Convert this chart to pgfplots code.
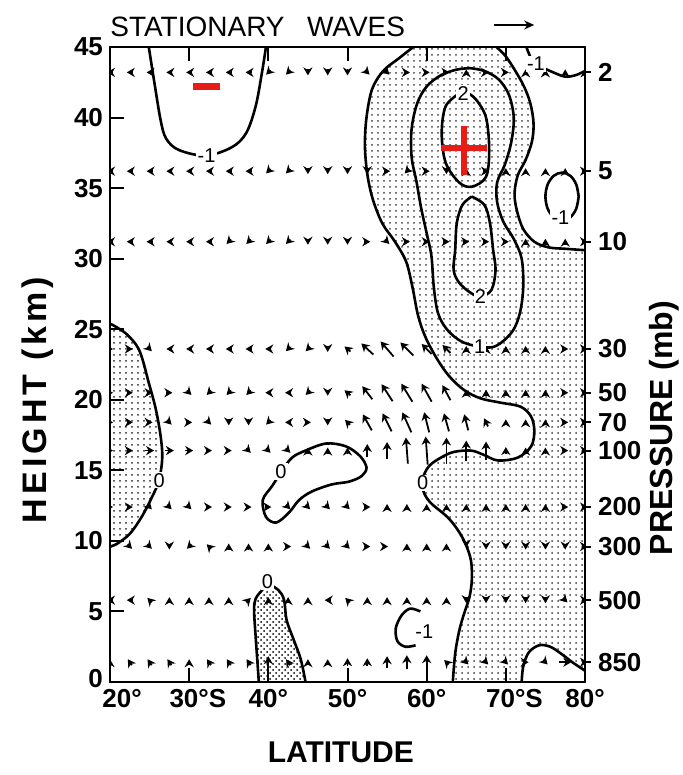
\documentclass[border=0pt]{standalone}
\usepackage{fontspec}
\setmainfont{Liberation Sans}
\usepackage{pgfplots}
\pgfplotsset{compat=1.18}
\usepackage{pgfplotstable}
\usetikzlibrary{patterns,arrows.meta}
\definecolor{mk}{RGB}{232,28,22}
\tikzset{
  cline/.style={black, line width=1.3pt, smooth, tension=0.55},
  lab/.style={fill=white, inner sep=0.6pt, font=\fontsize{10}{10}\selectfont},
}

% wave-activity vectors: x (deg S), y (km), u v in picture pixels
\pgfplotstableread{
x y u v
20 43.2 -6 0
22.5 43.2 -6 0
25 43.2 -6 0
27.5 43.2 -6 0
30 43.2 -6 0
32.5 43.2 -6 0
35 43.2 -6 0
37.5 43.2 -6 0
40 43.2 -4.5 -4.5
42.5 43.2 -4.5 -4.5
45 43.2 0 -6
47.5 43.2 0 -6
50 43.2 0 -6
52.5 43.2 4.5 -4.5
55 43.2 4.5 -4.5
57.5 43.2 6 0
60 43.2 6 0
62.5 43.2 6 0
65 43.2 0 6
67.5 43.2 6 0
70 43.2 6 0
72.5 43.2 0 6
75 43.2 0 6
77.5 43.2 0 6
80 43.2 0 6
20 36.2 -6 0
22.5 36.2 -6 0
25 36.2 -6 0
27.5 36.2 -6 0
30 36.2 -6 0
32.5 36.2 -6 0
35 36.2 -6 0
37.5 36.2 -6 0
40 36.2 -4.5 -4.5
42.5 36.2 -4.5 -4.5
45 36.2 0 -6
47.5 36.2 0 -6
50 36.2 0 -6
52.5 36.2 0 -6
55 36.2 6 0
57.5 36.2 -4.5 -4.5
60 36.2 6 0
62.5 36.2 0 -6
65 36.2 0 6
67.5 36.2 6 0
70 36.2 0 6
72.5 36.2 0 6
75 36.2 0 6
77.5 36.2 0 6
80 36.2 6 0
20 31.2 -6 0
22.5 31.2 -6 0
25 31.2 -6 0
27.5 31.2 -6 0
30 31.2 -6 0
32.5 31.2 -6 0
35 31.2 -4.5 -4.5
37.5 31.2 -4.5 -4.5
40 31.2 -4.5 -4.5
42.5 31.2 -4.5 -4.5
45 31.2 0 -6
47.5 31.2 0 -6
50 31.2 0 -6
52.5 31.2 6 0
55 31.2 4.5 -4.5
57.5 31.2 6 0
60 31.2 6 0
62.5 31.2 6 0
65 31.2 6 0
67.5 31.2 6 0
70 31.2 6 0
72.5 31.2 0 6
75 31.2 0 6
77.5 31.2 0 6
80 31.2 6 0
20 23.6 6 0
22.5 23.6 6 0
25 23.6 4.5 -4.5
27.5 23.6 -6 0
30 23.6 -6 0
32.5 23.6 -6 0
35 23.6 -6 0
37.5 23.6 -6 0
40 23.6 -6 0
42.5 23.6 -4.5 -4.5
45 23.6 -4.5 -4.5
47.5 23.6 0 -6
50 23.6 -6 5
52.5 23.6 -12 11
55 23.6 -13 15
57.5 23.6 -13 13
60 23.6 -10 10
62.5 23.6 -8 8
65 23.6 0 6
67.5 23.6 0 6
70 23.6 0 6
72.5 23.6 0 6
75 23.6 0 6
77.5 23.6 6 0
80 23.6 6 0
20 20.5 6 0
22.5 20.5 6 0
25 20.5 6 0
27.5 20.5 6 0
30 20.5 4.5 -4.5
32.5 20.5 -4.5 -4.5
35 20.5 -4.5 -4.5
37.5 20.5 -4.5 -4.5
40 20.5 -6 0
42.5 20.5 -6 0
45 20.5 -4.5 -4.5
47.5 20.5 0 -6
50 20.5 -6 5
52.5 20.5 -10 13
55 20.5 -11 17
57.5 20.5 -11 18
60 20.5 -10 18
62.5 20.5 -8 15
65 20.5 0 6
67.5 20.5 0 6
70 20.5 0 6
72.5 20.5 0 6
75 20.5 0 6
77.5 20.5 6 0
80 20.5 6 0
20 18.4 6 0
22.5 18.4 6 0
25 18.4 6 0
27.5 18.4 4.5 -4.5
30 18.4 6 0
32.5 18.4 4.5 -4.5
35 18.4 0 -6
37.5 18.4 0 -6
40 18.4 -4.5 -4.5
42.5 18.4 -6 0
45 18.4 6 0
47.5 18.4 0 -6
50 18.4 -5 5
52.5 18.4 -9 16
55 18.4 -9 18
57.5 18.4 -9 20
60 18.4 -5 20
62.5 18.4 -5 18
65 18.4 -4 16
67.5 18.4 -4 8
70 18.4 0 6
72.5 18.4 0 6
75 18.4 0 6
77.5 18.4 6 0
80 18.4 6 0
20 16.4 6 0
22.5 16.4 6 0
25 16.4 9 0
27.5 16.4 9 0
30 16.4 8 0
32.5 16.4 6 0
35 16.4 6 0
37.5 16.4 4.5 -4.5
40 16.4 4.5 -4.5
42.5 16.4 4.5 -4.5
45 16.4 0 6
47.5 16.4 0 6
50 16.4 0 6
52.5 16.4 0 13
55 16.4 0 17
57.5 16.4 -2 26
60 16.4 -2 28
62.5 16.4 0 26
65 16.4 0 20
67.5 16.4 0 18
70 16.4 0 7
72.5 16.4 0 6
75 16.4 0 6
77.5 16.4 6 0
80 16.4 6 0
20 12.4 6 0
22.5 12.4 6 0
25 12.4 4.5 -4.5
27.5 12.4 4.5 -4.5
30 12.4 4.5 -4.5
32.5 12.4 6 0
35 12.4 6 0
37.5 12.4 6 0
40 12.4 6 0
42.5 12.4 4.5 -4.5
45 12.4 4.5 -4.5
47.5 12.4 4.5 -4.5
50 12.4 4.5 -4.5
52.5 12.4 6 0
55 12.4 0 6
57.5 12.4 0 6
60 12.4 0 6
62.5 12.4 0 6
65 12.4 0 6
67.5 12.4 0 6
70 12.4 0 6
72.5 12.4 0 6
75 12.4 0 6
77.5 12.4 6 0
80 12.4 6 0
20 9.6 6 0
22.5 9.6 4.5 -4.5
25 9.6 4.5 -4.5
27.5 9.6 0 -6
30 9.6 -4.5 -4.5
32.5 9.6 -4.5 4.5
35 9.6 0 6
37.5 9.6 0 6
40 9.6 0 6
42.5 9.6 6 0
45 9.6 4.5 -4.5
47.5 9.6 4.5 -4.5
50 9.6 4.5 -4.5
52.5 9.6 6 0
55 9.6 2 0
57.5 9.6 0 6
60 9.6 0 6
62.5 9.6 0 6
65 9.6 0 -2
67.5 9.6 0 -6
70 9.6 0 -6
72.5 9.6 0 -6
75 9.6 0 -6
77.5 9.6 0 -6
80 9.6 6 0
20 5.8 -6 0
22.5 5.8 -6 0
25 5.8 -4.5 4.5
27.5 5.8 0 6
30 5.8 0 6
32.5 5.8 0 6
35 5.8 0 6
37.5 5.8 4.5 4.5
40 5.8 0 6
42.5 5.8 0 6
45 5.8 0 6
47.5 5.8 -6 0
50 5.8 -4.5 4.5
52.5 5.8 0 6
55 5.8 0 6
57.5 5.8 0 6
60 5.8 0 6
62.5 5.8 0 6
65 5.8 0 -6
67.5 5.8 0 -6
70 5.8 0 -6
72.5 5.8 0 -6
75 5.8 0 -6
77.5 5.8 4.5 -4.5
80 5.8 6 0
20 1.4 0 6
22.5 1.4 -4 6
25 1.4 -4 6
27.5 1.4 -4 6
30 1.4 0 6
32.5 1.4 -4 6
35 1.4 -4 6
37.5 1.4 -4 6
40 1.4 0 12
42.5 1.4 -4 6
45 1.4 0 6
47.5 1.4 0 6
50 1.4 0 8
52.5 1.4 0 8
55 1.4 0 12
57.5 1.4 0 14
60 1.4 0 14
62.5 1.4 -4.5 4.5
65 1.4 4.5 -4.5
67.5 1.4 4.5 -4.5
70 1.4 4.5 -4.5
72.5 1.4 6 0
75 1.4 4.5 -4.5
77.5 1.4 12 0
80 1.4 6 0
}\arrowdata

\begin{document}
\begin{tikzpicture}
\useasboundingbox (-55pt,-46.5pt) rectangle (286pt,341pt);
\begin{axis}[
    at={(0,0)}, anchor=south west,
    scale only axis, width=237.5pt, height=317.5pt,
    xmin=20, xmax=80, ymin=0, ymax=45,
    clip mode=individual,
    axis on top,
    axis line style={line width=1.2pt},
    xtick={20,30,...,80},
    xticklabels={\hspace{12pt}20°,30°\rlap{S},40°,50°,60°,70°\rlap{S},80°},
    ytick={0,5,...,45},
    yticklabels={\raisebox{4pt}{0},5,10,15,20,25,30,35,40,45},
    ytick pos=left,
    major tick length=7pt,
    tick style={line width=1pt, black},
    ticklabel style={font=\fontsize{13}{13}\selectfont\bfseries},
]
% shaded regions
\addplot[draw=none, pattern=dots, pattern color=black!85] coordinates {
  (20,25.4) (22,24.7) (23.7,23.5) (24.9,21.2) (25.8,19.3) (26.4,17.4)
  (26.6,15.9) (26.2,14.3) (25.3,13.1) (24.0,11.7) (22.5,10.5) (20.9,9.8) (20,9.6)
} -- cycle;
\addplot[draw=none, pattern=crosshatch dots, pattern color=black] coordinates {
  (38.8,0) (38.6,1.6) (38.4,3.2) (38.2,5.1) (38.4,5.9) (39.2,6.5) (40,6.9)
  (41.3,6.5) (42,5.8) (42.3,4.4) (43.2,3.0) (44.1,1.6) (44.7,0)
} -- cycle;
\addplot[draw=none, pattern=dots, pattern color=black!75] coordinates {
  (58.3,45) (56.5,44.2) (54.5,43.3) (53.1,42) (52.4,40) (52.2,38) (52.5,36)
  (53.2,34.2) (54.4,32.5) (56,31.2) (57.4,29.8) (58.2,28) (58.9,26) (59.8,24.5)
  (61.2,23) (62.8,21.7) (64.7,20.7) (66.8,20.1) (69.3,19.8) (71.9,19.5) (73.2,18.8)
  (73.6,17.8) (73.2,16.7) (71.5,15.9) (69,15.7) (67.2,16.1) (65.6,16.4) (63.4,16.3)
  (61.8,15.9) (60.3,15.3) (59.5,14.4) (59.6,13.5) (60.5,12.7) (62.6,11.7) (63.9,10.8)
  (64.9,9.8) (65.6,8.6) (65.7,7.2) (65.4,6.0) (64.7,4.8) (64.1,3.6) (63.6,2) (63.3,0)
  (72,0) (72.2,1.1) (72.9,2.1) (74.2,2.6) (75.6,2.5) (77,2.0) (78.4,1.4) (80,0.8)
  (80,30.6) (77.5,30.7) (75.4,30.8) (73.6,31.2) (72.2,32.1) (71.4,33.4) (71.1,34.6)
  (71.5,35.9) (72.5,37) (73.3,38.3) (73.5,39.6) (73.1,41) (72.3,42.2) (71.1,43.4)
  (69.9,44.4) (68.8,45)
} -- cycle;
% vectors
\addplot[black, line width=0.9pt, -{Stealth[length=4pt,width=4.6pt]},
  quiver={u=\thisrow{u}/7.92, v=\thisrow{v}/14.1}]
  table[x expr=\thisrow{x}-\thisrow{u}/15.84, y expr=\thisrow{y}-\thisrow{v}/28.2] {\arrowdata};
% contours
\addplot[cline] coordinates {(24.9,45) (25.6,42.5) (26.4,39.8) (27.1,38.5) (28.7,37.7)
  (32.1,37.3) (35.4,37.9) (37.2,38.9) (38.4,40.8) (39.2,43.2) (39.7,45)};
\addplot[cline] coordinates {(20,25.4) (22,24.7) (23.7,23.5) (24.9,21.2) (25.8,19.3)
  (26.4,17.4) (26.6,15.9) (26.2,14.3) (25.3,13.1) (24.0,11.7) (22.5,10.5) (20.9,9.8) (20,9.6)};
\addplot[cline] coordinates {(41.6,14.9) (43,15.9) (44.7,16.4) (47.3,16.9) (49.8,16.7)
  (51.6,16) (52.4,15.2) (51.8,14.6) (50.2,14.2) (48,14) (45.5,13.5) (43.9,12.9) (42.6,12)
  (41,11.3) (39.7,11.7) (39.3,12.9) (40.5,13.9) (41.6,14.9)};
\addplot[cline] coordinates {(38.8,0) (38.6,1.6) (38.4,3.2) (38.2,5.1) (38.4,5.9) (39.2,6.5)
  (40,6.9) (41.3,6.5) (42,5.8) (42.3,4.4) (43.2,3.0) (44.1,1.6) (44.7,0)};
\addplot[cline] coordinates {(59.2,5.0) (57.9,5.2) (56.8,4.7) (56.1,3.8) (56.3,2.9)
  (57.3,2.5) (58.6,2.6)};
\addplot[cline] coordinates {(58.3,45) (56.5,44.2) (54.5,43.3) (53.1,42) (52.4,40) (52.2,38)
  (52.5,36) (53.2,34.2) (54.4,32.5) (56,31.2) (57.4,29.8) (58.2,28) (58.9,26) (59.8,24.5)
  (61.2,23) (62.8,21.7) (64.7,20.7) (66.8,20.1) (69.3,19.8) (71.9,19.5) (73.2,18.8)
  (73.6,17.8) (73.2,16.7) (71.5,15.9) (69,15.7) (67.2,16.1) (65.6,16.4) (63.4,16.3)
  (61.8,15.9) (60.3,15.3) (59.5,14.4) (59.6,13.5) (60.5,12.7) (62.6,11.7) (63.9,10.8)
  (64.9,9.8) (65.6,8.6) (65.7,7.2) (65.4,6.0) (64.7,4.8) (64.1,3.6) (63.6,2) (63.3,0)};
\addplot[cline] coordinates {(72,0) (72.2,1.1) (72.9,2.1) (74.2,2.6) (75.6,2.5) (77,2.0)
  (78.4,1.4) (80,0.8)};
\addplot[cline] coordinates {(80,30.6) (77.5,30.7) (75.4,30.8) (73.6,31.2) (72.2,32.1)
  (71.4,33.4) (71.1,34.6) (71.5,35.9) (72.5,37) (73.3,38.3) (73.5,39.6) (73.1,41)
  (72.3,42.2) (71.1,43.4) (69.9,44.4) (68.8,45)};
\addplot[cline] coordinates {(65.5,43.5) (63.8,43.4) (61.8,43) (60,42.2) (58.8,41)
  (58.1,39.2) (58.1,37.2) (58.7,35.5) (59.3,33.6) (60,31.8) (60.6,30.2) (60.9,28)
  (61.4,26.2) (62.4,25.1) (63.9,24.3) (65.5,23.9) (67.9,23.7) (69.3,24) (70.9,24.9)
  (71.8,26.2) (72.2,28) (72.0,30) (71.0,31.4) (69.7,32.6) (68.9,34) (68.9,35.4)
  (69.9,36.7) (70.7,38.3) (71.0,40) (70.4,41.6) (69.1,42.7) (67.3,43.3) (65.5,43.5)};
\addplot[cline] coordinates {(64.1,41.7) (62.4,40.8) (61.9,38.9) (62.4,36.8) (64.1,35.4)
  (65.7,35.1) (67.5,35.8) (67.9,37.7) (67.5,40) (66.2,41.3) (64.9,41.8) (64.1,41.7)};
\addplot[cline] coordinates {(65.7,34.4) (64.5,33.8) (63.8,32.5) (63.6,30.6) (63.4,29.2)
  (64.1,28.3) (65.5,27.6) (66.8,27.3) (68.2,27.8) (68.7,29.2) (68.4,30.6) (68,32.5)
  (67.3,33.8) (65.7,34.4)};
\addplot[cline] coordinates {(72.6,45) (73.3,44.1) (74.5,43.6) (76,43.2) (77.5,42.9)
  (78.8,43.0) (80,43.3)};
\addplot[cline] coordinates {(79.2,34.4) (78.9,35.25) (78.15,35.87) (77.1,36.1)
  (76.05,35.87) (75.28,35.25) (75.0,34.4) (75.28,33.55) (76.05,32.93) (77.1,32.7)
  (78.15,32.93) (78.9,33.55) (79.2,34.4)};
% contour labels
\node[lab] at (axis cs:32.2,37.3) {-1};
\node[lab] at (axis cs:64.6,41.7) {2};
\node[lab] at (axis cs:66.8,27.3) {2};
\node[lab] at (axis cs:66.7,23.8) {1};
\node[lab] at (axis cs:73.8,43.8) {-1};
\node[lab] at (axis cs:76.9,32.9) {-1};
\node[lab] at (axis cs:26.2,14.3) {0};
\node[lab] at (axis cs:41.6,14.9) {0};
\node[lab] at (axis cs:39.9,7.1) {0};
\node[lab] at (axis cs:59.5,14.1) {0};
\node[lab] at (axis cs:59.7,3.6) {-1};
% red markers
\addplot[mk, line width=3.5pt] coordinates {(30.5,42.2) (33.9,42.2)};
\addplot[mk, line width=3.2pt] coordinates {(61.8,37.85) (67.6,37.85)};
\addplot[mk, line width=3.2pt] coordinates {(64.7,39.4) (64.7,35.9)};
% titles and labels
\node[anchor=base west, inner sep=0pt, font=\fontsize{14}{14}\selectfont]
  at ([yshift=5pt]rel axis cs:0,1) {STATIONARY\hspace{0.8em}WAVES};
\draw[line width=0.9pt, -{Stealth[length=5pt,width=4.5pt]}]
  ([yshift=11pt]rel axis cs:0.808,1) -- ([yshift=11pt]rel axis cs:0.893,1);
\node[rotate=90, font=\fontsize{17}{17}\selectfont\bfseries\addfontfeatures{LetterSpace=12}]
  at ([xshift=-36pt]rel axis cs:0,0.444) {HEIGHT (km)};
\node[font=\fontsize{15}{15}\selectfont\bfseries] at ([yshift=-35pt]rel axis cs:0.486,0) {LATITUDE};
\end{axis}
\begin{axis}[
    at={(0,0)}, anchor=south west,
    scale only axis, width=237.5pt, height=317.5pt,
    xmin=20, xmax=80, ymin=0, ymax=45,
    clip mode=individual,
    axis x line=none, axis y line*=right,
    axis line style={line width=1.2pt, -},
    ytick={43.2,36.2,31.2,23.6,20.5,18.4,16.4,12.4,9.6,5.8,1.4},
    yticklabels={2,5,10,30,50,70,100,200,300,500,850},
    tick align=outside, major tick length=3pt,
    tick style={line width=1pt, black},
    yticklabel style={font=\fontsize{13}{13}\selectfont\bfseries},
]
\node[rotate=90, font=\fontsize{16}{16}\selectfont\bfseries]
  at ([xshift=39.5pt]rel axis cs:1,0.40) {PRESSURE (mb)};
\end{axis}
\end{tikzpicture}
\end{document}
